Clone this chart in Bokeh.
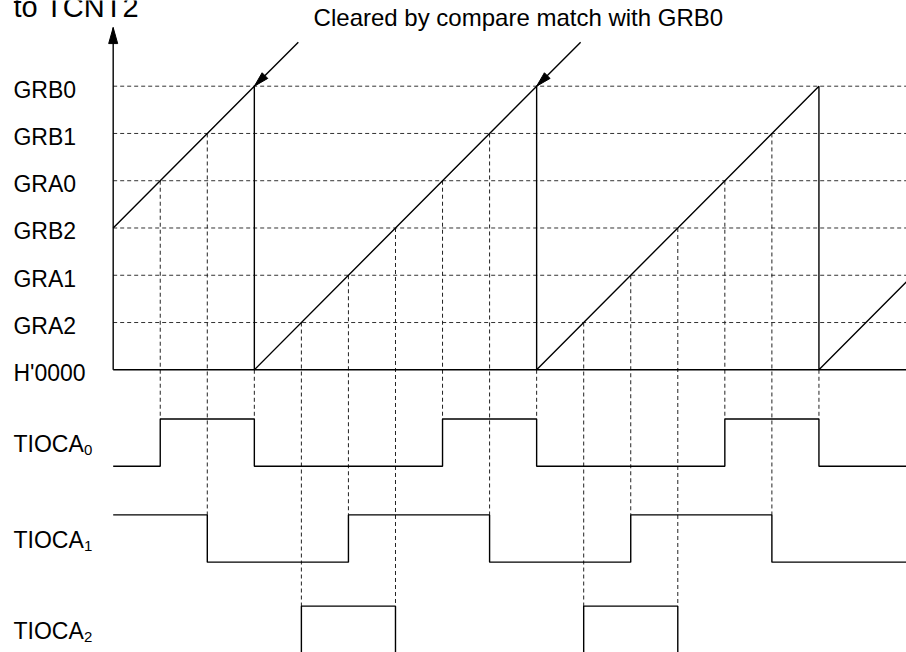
import math
from bokeh.plotting import figure
from bokeh.models import Range1d
from bokeh.core.properties import value
from bokeh.embed import file_html
from bokeh.resources import INLINE

# ---------------- data ----------------
level_names = ["H'0000", "GRA2", "GRA1", "GRB2", "GRA0", "GRB1", "GRB0"]
level_values = [0, 1, 2, 3, 4, 5, 6]

# counter (TCNT) sawtooth: time, value
counter_t = [0, 3, 3, 9, 9, 15, 15, 17]
counter_v = [3, 6, 0, 6, 0, 6, 0, 2]

# times of "cleared by compare match with GRB0" arrows
clear_times = [3, 9]
clear_level = 6

# output waveforms: initial state and toggle times
signal_names = ["TIOCA", "TIOCA", "TIOCA"]
signal_subs = ["0", "1", "2"]
signal_init = [0, 1, 0]
signal_edges = [
    [1, 3, 7, 9, 13, 15],
    [2, 5, 8, 11, 14],
    [4, 6, 10, 12],
]

# compare-match events: time, counter level, affected signal
event_t = [1, 2, 3, 4, 5, 6, 7, 8, 9, 10, 11, 12, 13, 14, 15]
event_level = [4, 5, 0, 1, 2, 3, 4, 5, 0, 1, 2, 3, 4, 5, 0]
event_signal = [0, 1, 0, 2, 1, 2, 0, 1, 0, 2, 1, 2, 0, 1, 0]

title_text = "to TCNT2"
note_text = "Cleared by compare match with GRB0"

# ---------------- layout constants ----------------
W, H = 906, 652
X0, X1 = -2.395, 16.861
Y0, Y1 = -5.981, 7.813
PX_T = W / (X1 - X0)
PX_V = H / (Y1 - Y0)
sig_high = [-1.04, -3.07, -5.0]
sig_low = [-2.04, -4.07, -6.2]
sig_mid = [-1.54, -3.57, -5.5]
axis_top = 7.24
label_t = -2.12
FONT = value("Liberation Sans")
TXT_FIX = -8  # baseline correction in screen px

p = figure(width=W, height=H, x_range=Range1d(X0, X1), y_range=Range1d(Y0, Y1),
           output_backend="svg", toolbar_location=None, min_border=0,
           x_axis_type=None, y_axis_type=None, outline_line_color=None,
           background_fill_color="white", border_fill_color="white")

# horizontal dashed level lines
lv = [v for v in level_values if v > 0]
p.segment(x0=[0] * len(lv), y0=lv, x1=[X1 + 1] * len(lv), y1=lv,
          line_color="#333333", line_width=1, line_dash="4 3")

# vertical dashed event lines
p.segment(x0=event_t, y0=event_level, x1=event_t,
          y1=[sig_high[s] for s in event_signal],
          line_color="#222222", line_width=1, line_dash="4 3")

# axes
p.segment(x0=[0, 0], y0=[0, 0], x1=[X1 + 1, 0], y1=[0, axis_top],
          line_color="black", line_width=1.4)

# counter sawtooth
p.line(counter_t, counter_v, line_color="black", line_width=1.4)

# waveforms
for i in range(len(signal_names)):
    state = signal_init[i]
    lvl = lambda s: sig_high[i] if s else sig_low[i]
    xs, ys = [0], [lvl(state)]
    for e in signal_edges[i]:
        xs.append(e); ys.append(lvl(state))
        state = 1 - state
        xs.append(e); ys.append(lvl(state))
    xs.append(X1 + 1); ys.append(lvl(state))
    p.line(xs, ys, line_color="black", line_width=1.4)


def head(tt, tv, dx, dy, L, Wd):
    n = math.hypot(dx, dy)
    ux, uy = dx / n, dy / n
    bx, by = -ux * L, -uy * L
    nx, ny = -uy * Wd / 2, ux * Wd / 2
    pts = [(0, 0), (bx + nx, by + ny), (bx - nx, by - ny)]
    return [tt + a / PX_T for a, b in pts], [tv + b / PX_V for a, b in pts]

hx, hy = [], []
a, b = head(0, axis_top, 0, 1, 16, 9)
hx.append(a); hy.append(b)
tail_px = 44
for ct in clear_times:
    p.line([ct + tail_px / PX_T, ct], [clear_level + tail_px / PX_V, clear_level],
           line_color="black", line_width=1.4)
    a, b = head(ct, clear_level, -1, -1, 15, 8)
    hx.append(a); hy.append(b)
p.patches(hx, hy, fill_color="black", line_color="black", line_width=1)

# level labels
p.text(x=[label_t] * len(level_names), y=level_values, text=level_names,
       text_font=FONT, text_font_size="23px", text_color="black",
       text_baseline="alphabetic", text_align="left", y_offset=11.5 + TXT_FIX)

# signal labels with subscripts
p.text(x=[label_t] * 3, y=sig_mid, text=signal_names,
       text_font=FONT, text_font_size="23px", text_color="black",
       text_baseline="alphabetic", text_align="left", y_offset=9.5 + TXT_FIX)
p.text(x=[label_t] * 3, y=sig_mid, text=signal_subs,
       text_font=FONT, text_font_size="15px", text_color="black",
       text_baseline="alphabetic", text_align="left", x_offset=70.5,
       y_offset=15 + TXT_FIX)

# annotation text and title
p.text(x=[4.26], y=[(369.3 - 25) / PX_V], text=[note_text],
       text_font=FONT, text_font_size="24px", text_color="black",
       text_baseline="alphabetic", text_align="left", y_offset=TXT_FIX)
p.text(x=[label_t], y=[(369.3 - 15) / PX_V], text=[title_text],
       text_font=FONT, text_font_size="29px", text_color="black",
       text_baseline="alphabetic", text_align="left", y_offset=TXT_FIX)

open("out.html", "w").write(file_html(p, INLINE))
